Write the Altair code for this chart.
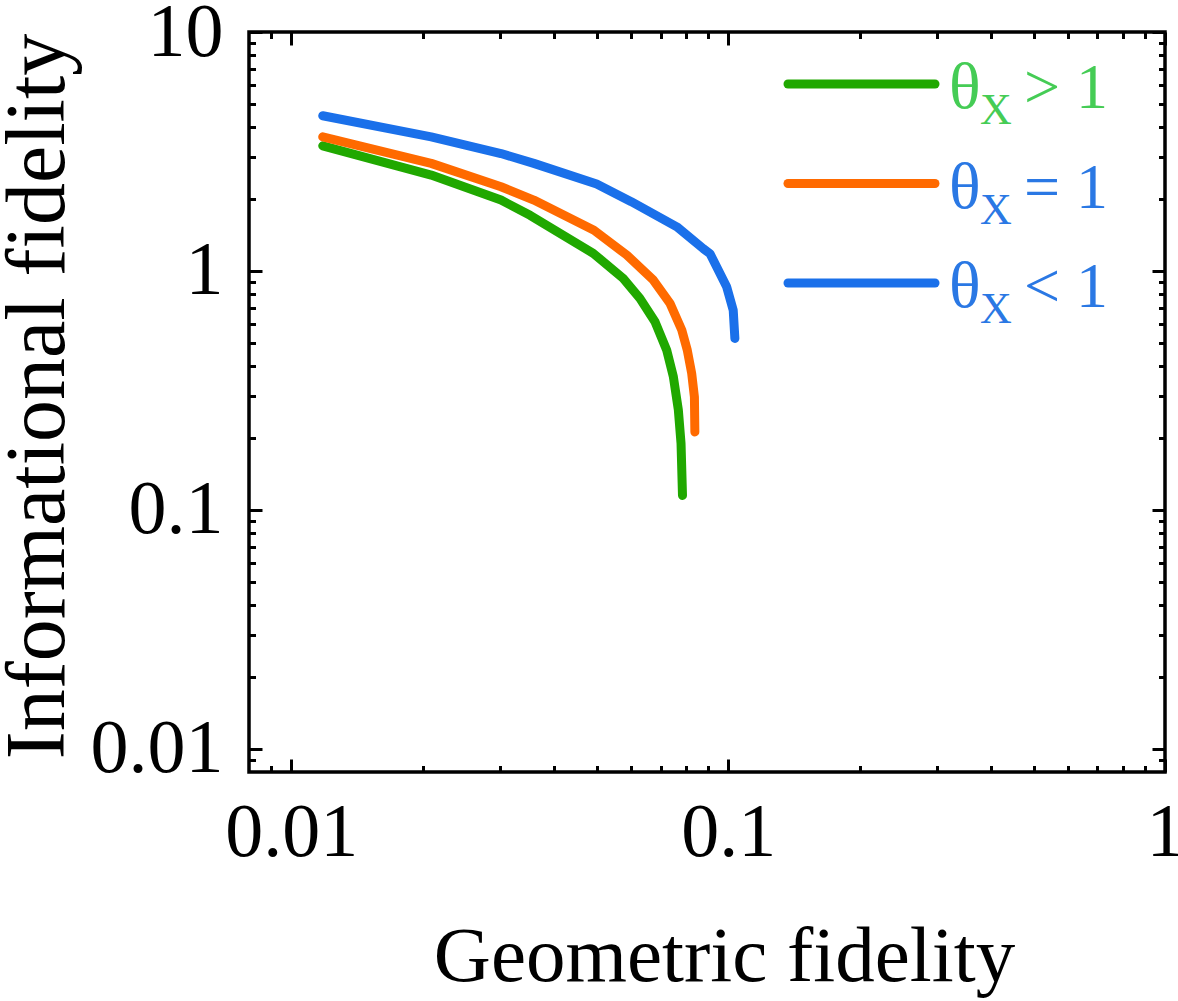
import altair as alt
import pandas as pd

# ---- data ----
series = ["θX > 1", "θX = 1", "θX < 1"]
line_colors = ["#20a800", "#ff6a00", "#1a70ea"]
text_colors = ["#45cc55", "#2a78e4", "#2a78e4"]
relations = ["> 1", "= 1", "< 1"]

green_x = [0.0118, 0.0209, 0.0302, 0.0352, 0.0491, 0.0575, 0.0628, 0.0680, 0.0723, 0.0749, 0.0769, 0.0780, 0.0786]
green_y = [3.34, 2.52, 1.98, 1.71, 1.185, 0.931, 0.768, 0.613, 0.467, 0.361, 0.262, 0.190, 0.115]

orange_x = [0.0118, 0.0209, 0.0302, 0.0359, 0.0493, 0.0586, 0.0674, 0.0736, 0.0783, 0.0806, 0.0825, 0.0837, 0.0839]
orange_y = [3.64, 2.82, 2.25, 1.98, 1.48, 1.166, 0.916, 0.732, 0.566, 0.467, 0.373, 0.297, 0.212]

blue_x = [0.0118, 0.0209, 0.0302, 0.0359, 0.0500, 0.0600, 0.0763, 0.0877, 0.0909, 0.0992, 0.1027, 0.1036]
blue_y = [4.46, 3.64, 3.10, 2.82, 2.31, 1.95, 1.53, 1.24, 1.18, 0.858, 0.685, 0.522]

x_major = [0.01, 0.1, 1]
x_minor = [0.009, 0.02, 0.03, 0.04, 0.05, 0.06, 0.07, 0.08, 0.09,
           0.2, 0.3, 0.4, 0.5, 0.6, 0.7, 0.8, 0.9]
y_major = [0.01, 0.1, 1, 10]
y_minor = [0.009, 0.02, 0.03, 0.04, 0.05, 0.06, 0.07, 0.08, 0.09,
           0.2, 0.3, 0.4, 0.5, 0.6, 0.7, 0.8, 0.9,
           2, 3, 4, 5, 6, 7, 8, 9]

rows = []
for name, xs, ys in zip(series, [green_x, orange_x, blue_x], [green_y, orange_y, blue_y]):
    for i, (a, b) in enumerate(zip(xs, ys)):
        rows.append({"series": name, "gx": a, "iy": b, "idx": i})
df = pd.DataFrame(rows)

FONT = "Liberation Serif"
W, H = 916, 740
MAJ, MIN = 13, 6.5

xscale = alt.Scale(type="log", domain=[0.008, 1], nice=False)
yscale = alt.Scale(type="log", domain=[0.008, 10], nice=False)


def tick_axis(values, orient, size):
    return alt.Axis(values=values, orient=orient, tickSize=size, offset=-size,
                    domain=False, grid=False, labels=False, ticks=True,
                    tickColor="black", tickWidth=3, title=None)


label_kw = dict(labelFont=FONT, labelFontSize=76, labelColor="black",
                labelExpr="datum.value >= 1 ? format(datum.value, 'd') : format(datum.value, '')",
                labelFlush=False, labelOverlap=False)

x_main = alt.Axis(values=x_major, orient="bottom", tickSize=MAJ, offset=-MAJ,
                  domain=False, grid=False, tickColor="black", tickWidth=3,
                  labelPadding=23, title="Geometric fidelity", titleFont=FONT,
                  titleFontSize=79, titleFontWeight="normal", titleColor="black",
                  titleX=475, titleY=221, titleBaseline="alphabetic", titleAlign="center",
                  **label_kw)
y_main = alt.Axis(values=y_major, orient="left", tickSize=MAJ, offset=-MAJ,
                  domain=False, grid=False, tickColor="black", tickWidth=3,
                  labelPadding=26, title="Informational fidelity", titleFont=FONT,
                  titleFontSize=84, titleFontWeight="normal", titleColor="black",
                  titleX=-199, titleY=H / 2 - 6, titleAngle=270,
                  titleBaseline="alphabetic", titleAlign="center",
                  **label_kw)

lines = alt.Chart(df).mark_line(strokeWidth=9, strokeCap="round", strokeJoin="round").encode(
    x=alt.X("gx:Q", scale=xscale, axis=x_main),
    y=alt.Y("iy:Q", scale=yscale, axis=y_main),
    color=alt.Color("series:N", scale=alt.Scale(domain=series, range=line_colors), legend=None),
    order="idx:Q",
)


def ghost(xaxis, yaxis):
    return alt.Chart(df).mark_point(opacity=0, size=1).encode(
        x=alt.X("gx:Q", scale=xscale, axis=xaxis),
        y=alt.Y("iy:Q", scale=yscale, axis=yaxis),
    )


g1 = ghost(tick_axis(x_minor, "bottom", MIN), tick_axis(y_minor, "left", MIN))
g2 = ghost(tick_axis(x_major, "top", MAJ), tick_axis(y_major, "right", MAJ))
g3 = ghost(tick_axis(x_minor, "top", MIN), tick_axis(y_minor, "right", MIN))

# ---- legend (manual, for the subscript) ----
one = pd.DataFrame({"k": [0]})
legend_layers = []
for i in range(3):
    dy = i * 99.5
    legend_layers.append(
        alt.Chart(one).mark_rule(strokeWidth=9, strokeCap="round", color=line_colors[i]).encode(
            x=alt.value(539), x2=alt.value(686), y=alt.value(52 + dy)))
    legend_layers.append(
        alt.Chart(one).mark_text(font=FONT, fontSize=66, align="left", baseline="alphabetic",
                                 color=text_colors[i]).encode(
            x=alt.value(700), y=alt.value(76 + dy), text=alt.value("θ")))
    legend_layers.append(
        alt.Chart(one).mark_text(font=FONT, fontSize=44, align="left", baseline="alphabetic",
                                 color=text_colors[i]).encode(
            x=alt.value(731), y=alt.value(92 + dy), text=alt.value("X")))
    legend_layers.append(
        alt.Chart(one).mark_text(font=FONT, fontSize=64, align="left", baseline="alphabetic",
                                 color=text_colors[i]).encode(
            x=alt.value(775), y=alt.value(76 + dy), text=alt.value(relations[i])))

chart = alt.layer(lines, g1, g2, g3, *legend_layers).resolve_axis(
    x="independent", y="independent"
).properties(
    width=W, height=H,
    autosize=alt.AutoSizeParams(type="none"),
    padding={"left": 249, "top": 32, "right": 13, "bottom": 229},
    background="white",
).configure_view(stroke="black", strokeWidth=3.5)

chart.save("out.html", embed_options={"renderer": "svg", "actions": False})
